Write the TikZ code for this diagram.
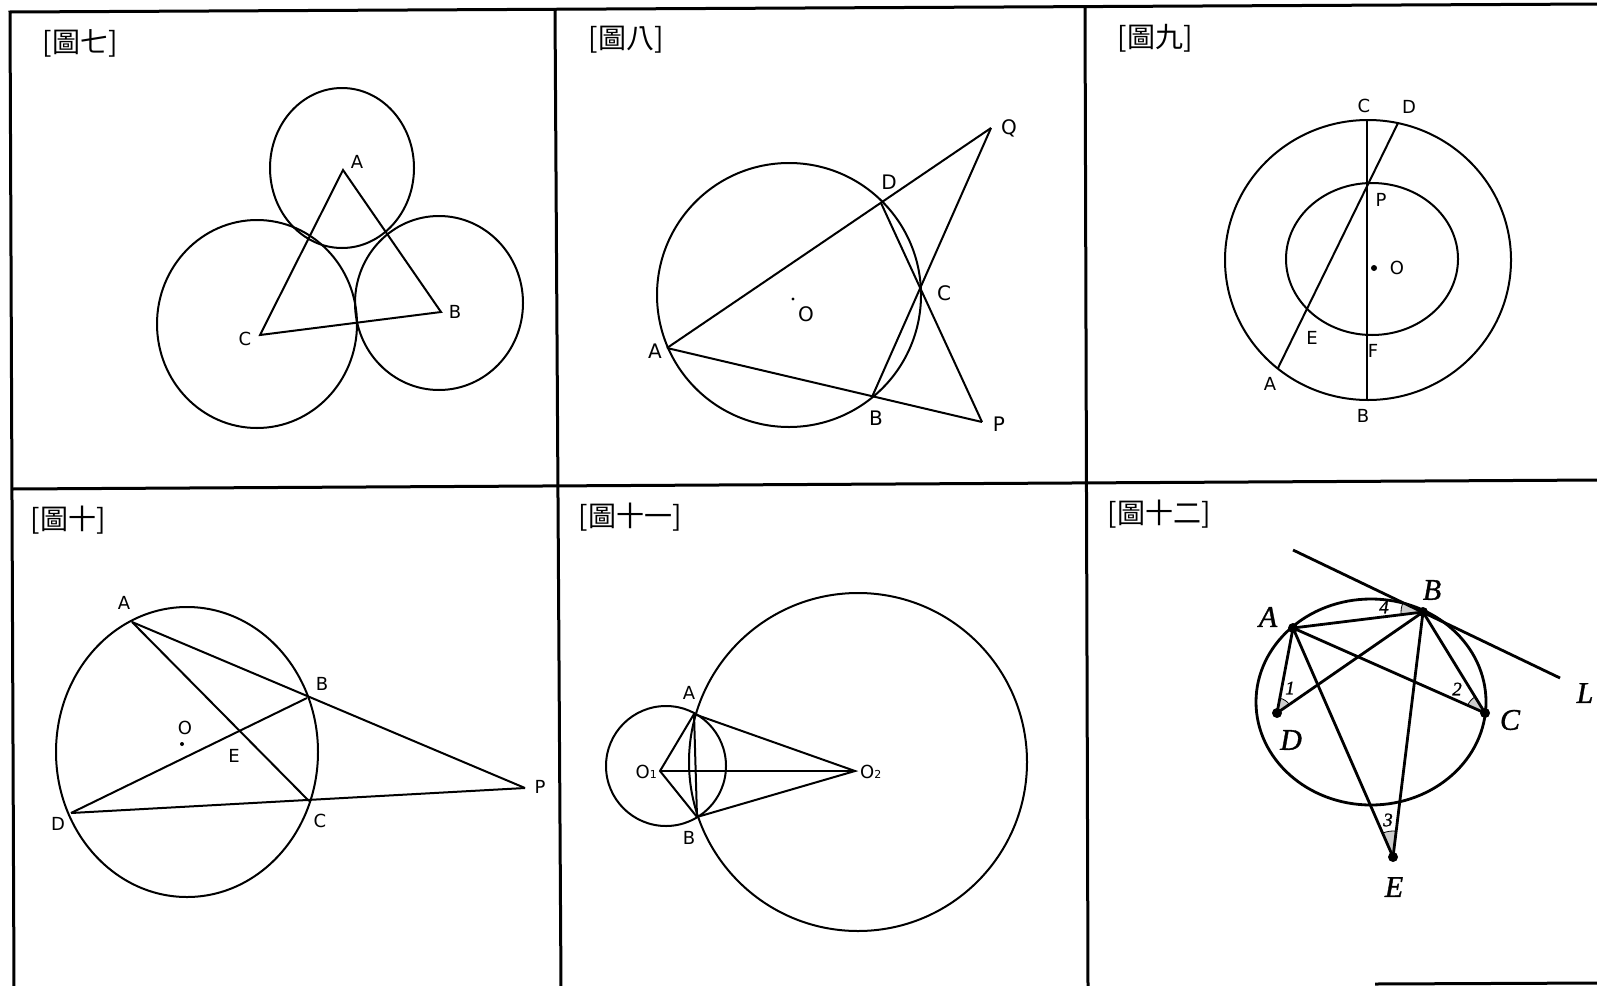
\documentclass[tikz,border=0pt]{standalone}
\usepackage{fontspec}
\setmainfont{DejaVu Sans}
\newfontfamily\cjk{Noto Sans CJK TC}
\newfontfamily\tnr[FakeBold=1.2]{Liberation Serif}
\usetikzlibrary{angles}
\begin{document}
\begin{tikzpicture}[x=1pt,y=-1pt,
  lbl/.style={font=\fontsize{18}{18}\selectfont, inner sep=0pt},
  lblb/.style={font=\fontsize{20}{20}\selectfont, inner sep=0pt},
  ttl/.style={font=\cjk\fontsize{28}{28}\selectfont, inner sep=0pt},
  geo/.style={line width=2pt},
  geob/.style={line width=2.8pt},
  frame/.style={line width=3pt},
  tlbl/.style={font=\tnr\itshape\fontsize{30}{30}\selectfont, inner sep=0pt},
  num/.style={font=\tnr\itshape\fontsize{19}{19}\selectfont, inner sep=0pt},
  pt/.style={circle, fill=black, inner sep=0pt, minimum size=10pt},
  ang/.style={draw, fill=gray!40, line width=0.8pt},
  ]
\useasboundingbox (0,0) rectangle (1597,985);
\fill[white] (0,0) rectangle (1597,985);

% ---------- frame ----------
\coordinate (tl) at (10,12); \coordinate (tr) at (1600,4); \coordinate (bl) at (14,988);
\coordinate (d1t) at (555,10); \coordinate (d1b) at (561,988);
\coordinate (d2t) at (1085,7); \coordinate (d2b) at (1088,988);
\coordinate (ml) at (12,489); \coordinate (mr) at (1600,480);
\coordinate (brl) at (1375,984); \coordinate (brr) at (1600,983);
\draw[frame] (bl) -- (tl) -- (tr);
\draw[frame] (d1t) -- (d1b);
\draw[frame] (d2t) -- (d2b);
\draw[frame] (ml) -- (mr);
\draw[frame] (brl) -- (brr);

% ---------- titles ----------
\node[ttl] (t7) at (80,43) {[圖七]};
\node[ttl] (t8) at (626,40) {[圖八]};
\node[ttl] (t9) at (1155,38) {[圖九]};
\node[ttl] (t10) at (68,520) {[圖十]};
\node[ttl] (t11) at (630,517) {[圖十一]};
\node[ttl] (t12) at (1159,514) {[圖十二]};

% ---------- Fig 7 ----------
\coordinate (A7) at (343,170);
\coordinate (B7) at (441,312);
\coordinate (C7) at (260,335);
\draw[geo] (342,168) ellipse [x radius=72, y radius=80];
\draw[geo] (257,324) ellipse [x radius=100, y radius=104];
\draw[geo] (439,303) ellipse [x radius=84, y radius=87];
\draw[geo] (A7) -- (B7) -- (C7) -- cycle;
\node[lbl] (lA7) at (357,162) {A};
\node[lbl] (lB7) at (455,312) {B};
\node[lbl] (lC7) at (245,339) {C};

% ---------- Fig 8 ----------
\coordinate (A8) at (667,348);
\coordinate (D8) at (881,203);
\coordinate (Q8) at (991,128);
\coordinate (C8) at (920,290);
\coordinate (B8) at (872,397);
\coordinate (P8) at (982,422);
\draw[geo] (789,295) circle [radius=132];
\fill (793,299) circle [radius=1.6];
\draw[geo] (A8) -- (Q8);
\draw[geo] (A8) -- (P8);
\draw[geo] (D8) -- (P8);
\draw[geo] (Q8) -- (B8);
\node[lblb] (lA8) at (655,351) {A};
\node[lblb] (lD8) at (889,182) {D};
\node[lblb] (lQ8) at (1009,128) {Q};
\node[lblb] (lC8) at (944,293) {C};
\node[lblb] (lB8) at (876,418) {B};
\node[lblb] (lP8) at (999,424) {P};
\node[lblb] (lO8) at (806,314) {O};

% ---------- Fig 9 ----------
\coordinate (C9) at (1367,121);
\coordinate (B9) at (1367,400);
\coordinate (D9) at (1398,123);
\coordinate (A9) at (1278,368);
\draw[geo] (1368,260) ellipse [x radius=143, y radius=140];
\draw[geo] (1372,259) ellipse [x radius=86, y radius=76];
\draw[geo] (C9) -- (B9);
\draw[geo] (D9) -- (A9);
\fill (1374,268) circle [radius=3];
\node[lbl] (lC9) at (1364,106) {C};
\node[lbl] (lD9) at (1409,107) {D};
\node[lbl] (lP9) at (1381,200) {P};
\node[lbl] (lO9) at (1397,268) {O};
\node[lbl] (lE9) at (1312,338) {E};
\node[lbl] (lF9) at (1373,351) {F};
\node[lbl] (lA9) at (1270,384) {A};
\node[lbl] (lB9) at (1363,416) {B};

% ---------- Fig 10 ----------
\coordinate (A10) at (132,622);
\coordinate (B10) at (307,698);
\coordinate (C10) at (309,801);
\coordinate (D10) at (71,813);
\coordinate (P10) at (525,788);
\draw[geo] (187,752) ellipse [x radius=131, y radius=145];
\draw[geo] (A10) -- (C10);
\draw[geo] (A10) -- (P10);
\draw[geo] (D10) -- (B10);
\draw[geo] (D10) -- (P10);
\fill (182,744) circle [radius=2];
\node[lbl] (lA10) at (124,603) {A};
\node[lbl] (lB10) at (322,684) {B};
\node[lbl] (lC10) at (320,821) {C};
\node[lbl] (lD10) at (58,824) {D};
\node[lbl] (lP10) at (540,787) {P};
\node[lbl] (lE10) at (234,756) {E};
\node[lbl] (lO10) at (185,728) {O};

% ---------- Fig 11 ----------
\coordinate (O1) at (660,771);
\coordinate (O2) at (855,771);
\coordinate (A11) at (694,714);
\coordinate (B11) at (697,817);
\draw[geo] (666,766) circle [radius=60];
\draw[geo] (858,762) circle [radius=169];
\draw[geo] (O1) -- (A11) -- (O2) -- (B11) -- cycle;
\draw[geo] (O1) -- (O2);
\draw[geo] (A11) -- (B11);
\node[lbl, anchor=east] (lO1) at (657,772) {O{\fontsize{11}{11}\selectfont 1}};
\node[lbl, anchor=west] (lO2) at (860,772) {O{\fontsize{11}{11}\selectfont 2}};
\node[lbl] (lA11) at (689,693) {A};
\node[lbl] (lB11) at (689,838) {B};

% ---------- Fig 12 ----------
\coordinate (A12) at (1293,628);
\coordinate (B12) at (1423,612);
\coordinate (C12) at (1485,713);
\coordinate (D12) at (1277,713);
\coordinate (E12) at (1393,857);
\coordinate (T12) at (1293,550);
\coordinate (L12) at (1560,678);
\draw[geob] (1371,702) ellipse [x radius=115, y radius=103];
\pic[ang, angle radius=15pt] {angle=B12--D12--A12};
\pic[ang, angle radius=19pt] {angle=B12--C12--A12};
\pic[ang, angle radius=26pt] {angle=B12--E12--A12};
\pic[ang, angle radius=22pt] {angle=T12--B12--A12};
\draw[geob] (T12) -- (L12);
\draw[geob] (A12) -- (B12);
\draw[geob] (A12) -- (C12);
\draw[geob] (A12) -- (D12);
\draw[geob] (A12) -- (E12);
\draw[geob] (B12) -- (D12);
\draw[geob] (B12) -- (C12);
\draw[geob] (B12) -- (E12);
\node[pt] (pA12) at (A12) {};
\node[pt] (pB12) at (B12) {};
\node[pt] (pC12) at (C12) {};
\node[pt] (pD12) at (D12) {};
\node[pt] (pE12) at (E12) {};
\node[tlbl] (lA12) at (1268,617) {A};
\node[tlbl] (lB12) at (1432,590) {B};
\node[tlbl] (lC12) at (1510,720) {C};
\node[tlbl] (lD12) at (1291,740) {D};
\node[tlbl] (lE12) at (1394,887) {E};
\node[tlbl] (lL12) at (1585,693) {L};
\node[num] (n1) at (1290,688) {1};
\node[num] (n2) at (1457,689) {2};
\node[num] (n3) at (1388,820) {3};
\node[num] (n4) at (1384,607) {4};
\end{tikzpicture}
\end{document}
